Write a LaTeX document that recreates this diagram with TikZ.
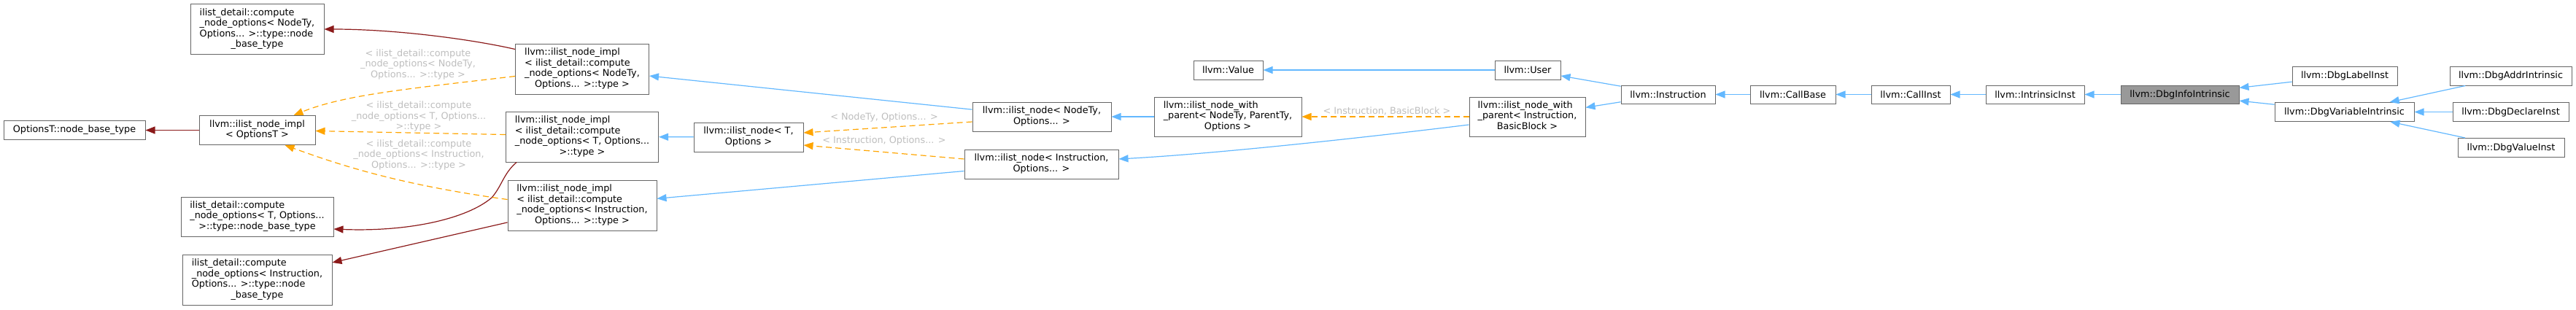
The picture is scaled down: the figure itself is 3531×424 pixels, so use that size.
\documentclass[tikz,border=0pt]{standalone}
\usepackage{fontspec}
\setmainfont{DejaVu Sans}
\usetikzlibrary{arrows.meta}

\definecolor{boxline}{HTML}{666666}
\definecolor{mainfill}{HTML}{999999}
\definecolor{pubedge}{HTML}{63B8FF}
\definecolor{privedge}{HTML}{8B1A1A}
\definecolor{tmpledge}{HTML}{FFA500}
\definecolor{tmpltext}{HTML}{BEBEBE}

% dòng trái, dòng cuối giữa
\newcommand{\dlines}[2]{\begin{tabular}{@{}l@{}}#1\\\multicolumn{1}{@{}c@{}}{#2}\end{tabular}}

\tikzset{
  cls/.style 2 args={draw=boxline, fill=white, line width=1pt, inner sep=0pt,
    minimum width=#1pt, minimum height=#2pt,
    font=\fontsize{12.8pt}{14.5pt}\selectfont},
  clsmain/.style 2 args={cls={#1}{#2}, fill=mainfill},
  pub/.style={draw=pubedge, line width=1.2pt, -{Triangle[length=13pt,width=10pt]}},
  priv/.style={draw=privedge, line width=1.2pt, -{Triangle[length=13pt,width=10pt]}},
  tmpl/.style={draw=tmpledge, line width=1.2pt, dash pattern=on 8pt off 5pt,
    -{Triangle[length=13pt,width=10pt]}},
  tlabel/.style={text=tmpltext, align=center, inner sep=0pt,
    font=\fontsize{12.8pt}{14.5pt}\selectfont}
}

\begin{document}
\begin{tikzpicture}[x=1pt,y=-1pt]
\useasboundingbox (0,0) rectangle (3531,424);

% Các lớp
\node[cls={194}{26}] (optBase) at (102,178.5) {OptionsT::node\_base\_type};
\node[cls={159}{40}] (implOpt) at (352.5,178.5) {\dlines{llvm::ilist\_node\_impl}{< OptionsT >}};
\node[cls={183}{69}] (cmpNodeTy) at (352.5,40) {\dlines{ilist\_detail::compute\\\_node\_options< NodeTy,\\Options... >::type::node}{\_base\_type}};
\node[cls={209}{54}] (cmpT) at (352.5,297) {\dlines{ilist\_detail::compute\\\_node\_options< T, Options...}{>::type::node\_base\_type}};
\node[cls={205}{69}] (cmpInstr) at (352.5,383.5) {\dlines{ilist\_detail::compute\\\_node\_options< Instruction,\\Options... >::type::node}{\_base\_type}};

\node[cls={183}{69}] (implNodeTy) at (798,94.5) {\dlines{llvm::ilist\_node\_impl\\< ilist\_detail::compute\\\_node\_options< NodeTy,}{Options... >::type >}};
\node[cls={209}{69}] (implT) at (798,187.5) {\dlines{llvm::ilist\_node\_impl\\< ilist\_detail::compute\\\_node\_options< T, Options...}{>::type >}};
\node[cls={204}{69}] (implInstr) at (798,281.5) {\dlines{llvm::ilist\_node\_impl\\< ilist\_detail::compute\\\_node\_options< Instruction,}{Options... >::type >}};

\node[cls={150}{40}] (ilnT) at (1026,188) {\dlines{llvm::ilist\_node< T,}{Options >}};
\node[cls={190}{40}] (ilnNodeTy) at (1428,160) {\dlines{llvm::ilist\_node< NodeTy,}{Options... >}};
\node[cls={211}{40}] (ilnInstr) at (1427.5,225) {\dlines{llvm::ilist\_node< Instruction,}{Options... >}};

\node[cls={95}{26}] (value) at (1683.5,96) {llvm::Value};
\node[cls={202}{54}] (wpNodeTy) at (1683,160) {\dlines{llvm::ilist\_node\_with\\\_parent< NodeTy, ParentTy,}{Options >}};
\node[cls={90}{26}] (user) at (2094,96) {llvm::User};
\node[cls={159}{54}] (wpInstr) at (2093.5,160) {\dlines{llvm::ilist\_node\_with\\\_parent< Instruction,}{BasicBlock >}};

\node[cls={129}{25}] (instr) at (2286.5,129.5) {llvm::Instruction};
\node[cls={117}{25}] (callBase) at (2457.5,129.5) {llvm::CallBase};
\node[cls={108}{25}] (callInst) at (2619,129.5) {llvm::CallInst};
\node[cls={135}{25}] (intrInst) at (2789.5,129.5) {llvm::IntrinsicInst};
\node[clsmain={162}{25}] (dbgInfo) at (2988,129.5) {llvm::DbgInfoIntrinsic};

\node[cls={144}{26}] (dbgLabel) at (3214,104) {llvm::DbgLabelInst};
\node[cls={191}{26}] (dbgVar) at (3213.5,153.5) {llvm::DbgVariableIntrinsic};
\node[cls={167}{26}] (dbgAddr) at (3441.5,104) {llvm::DbgAddrIntrinsic};
\node[cls={159}{26}] (dbgDecl) at (3441.5,153.5) {llvm::DbgDeclareInst};
\node[cls={146}{26}] (dbgValue) at (3442,202.5) {llvm::DbgValueInst};

% Kế thừa riêng
\draw[priv] (implOpt) -- (optBase);
\draw[priv] ([yshift=27pt]implNodeTy.west) .. controls (647,54) and (543,40) .. (cmpNodeTy.east);
\draw[priv] ([xshift=15pt]implT.south west) .. controls (690,238) and (688,255) .. (674,271)
  .. controls (640,300) and (560,318) .. ([yshift=-17pt]cmpT.east);
\draw[priv] (implInstr) -- (cmpInstr);

% Mẫu
\draw[tmpl] ([yshift=-10pt]implNodeTy.west) .. controls (557,122) and (472,130) .. ([xshift=-30pt]implOpt.north east);
\draw[tmpl] ([yshift=3pt]implT.west) -- ([yshift=-1pt]implOpt.east);
\draw[tmpl] ([yshift=8pt]implInstr.west) .. controls (546,253) and (465,226) .. ([xshift=-42pt]implOpt.south east);
\node[tlabel] (lblNodeTy) at (573,88) {< ilist\_detail::compute\\\_node\_options< NodeTy,\\Options... >::type >};
\node[tlabel] (lblT) at (574,159.5) {< ilist\_detail::compute\\\_node\_options< T, Options...\\>::type >};
\node[tlabel] (lblInstr) at (574,212) {< ilist\_detail::compute\\\_node\_options< Instruction,\\Options... >::type >};

\draw[tmpl] ([yshift=-7pt]ilnNodeTy.west) -- ([yshift=6pt]ilnT.east);
\draw[tmpl] ([yshift=7pt]ilnInstr.west) -- ([yshift=-11pt]ilnT.east);
\node[tlabel] (lblNodeOpt) at (1212,161) {< NodeTy, Options... >};
\node[tlabel] (lblInstrOpt) at (1212,193) {< Instruction, Options... >};

\draw[tmpl] (wpInstr) -- (wpNodeTy);
\node[tlabel] (lblBB) at (1901,152) {< Instruction, BasicBlock >};

% Kế thừa công khai
\draw[pub] (ilnNodeTy) -- (implNodeTy);
\draw[pub] (ilnT) -- (implT);
\draw[pub] (ilnInstr) -- (implInstr);
\draw[pub] (wpNodeTy) -- (ilnNodeTy);
\draw[pub] ([yshift=-11pt]wpInstr.west) .. controls (1900,185) and (1680,210) .. ([yshift=7pt]ilnInstr.east);
\draw[pub] (user) -- (value);
\draw[pub] (instr) -- (user);
\draw[pub] (instr) -- (wpInstr);
\draw[pub] (callBase) -- (instr);
\draw[pub] (callInst) -- (callBase);
\draw[pub] (intrInst) -- (callInst);
\draw[pub] (dbgInfo) -- (intrInst);
\draw[pub] (dbgLabel) -- (dbgInfo);
\draw[pub] (dbgVar) -- (dbgInfo);
\draw[pub] (dbgAddr) -- (dbgVar);
\draw[pub] (dbgDecl) -- (dbgVar);
\draw[pub] (dbgValue) -- (dbgVar);
\end{tikzpicture}
\end{document}
